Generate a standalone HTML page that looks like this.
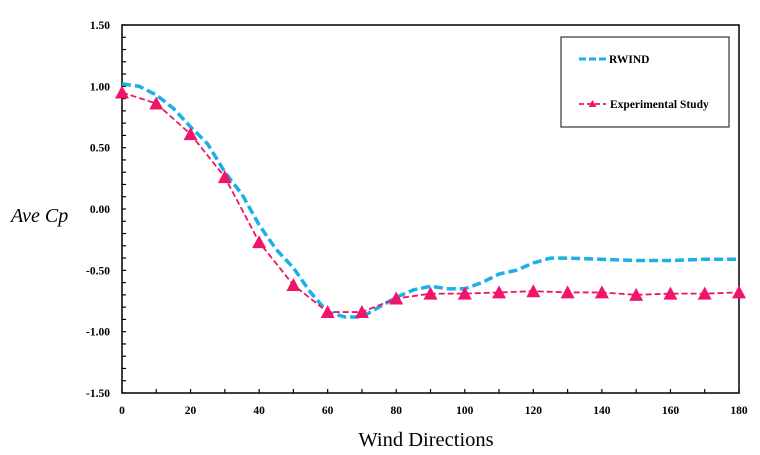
<!DOCTYPE html>
<html><head><meta charset="utf-8"><style>
body{margin:0;background:#fff;width:760px;height:455px;overflow:hidden}
svg{display:block}
.t{font-family:"Liberation Serif",serif;font-weight:bold;font-size:11.5px;fill:#000}
</style></head><body>
<svg id="s" width="760" height="455" xmlns="http://www.w3.org/2000/svg">
<rect x="0" y="0" width="760" height="455" fill="#fff"/>
<rect x="122" y="25" width="617" height="368" fill="none" stroke="#000" stroke-width="1.5"/>
<g id="ticks" stroke="#000" stroke-width="1.2"></g>
<g id="labels"></g>
<text x="11" y="222" font-family="Liberation Serif,serif" font-style="italic" font-size="20">Ave Cp</text>
<text x="426" y="446" text-anchor="middle" font-family="Liberation Serif,serif" font-size="20.5">Wind Directions</text>
<path id="rw" fill="none" stroke="#1ab0e8" stroke-width="3.5" stroke-dasharray="9,4"/>
<path id="ex" fill="none" stroke="#f0145f" stroke-width="1.8" stroke-dasharray="6,3"/>
<g id="mk" fill="#f0146a"></g>
<rect x="561" y="37" width="168" height="90" fill="#fff" stroke="#333" stroke-width="1.2"/>
<line x1="579" y1="59" x2="606" y2="59" stroke="#1ab0e8" stroke-width="3" stroke-dasharray="7,3"/>
<text class="t" x="609" y="63">RWIND</text>
<line x1="579" y1="104" x2="606" y2="104" stroke="#f0145f" stroke-width="1.8" stroke-dasharray="5,3"/>
<polygon points="592.5,100 588.5,107 596.5,107" fill="#f0146a"/>
<text class="t" x="610" y="108">Experimental Study</text>
</svg>
<script>
const X=d=>122+d*617/180, Y=v=>209-v*122.67;
let tk="",lb="";
for(let v=-1.5;v<=1.501;v+=0.1){const y=Y(v);tk+=`<line x1="122" y1="${y}" x2="126" y2="${y}"/>`;}
for(let i=-3;i<=3;i++){const v=i*0.5;lb+=`<text class="t" x="110" y="${Y(v)+4}" text-anchor="end">${v.toFixed(2)}</text>`;}
for(let d=0;d<=180;d+=10){const x=X(d);tk+=`<line x1="${x}" y1="393" x2="${x}" y2="389"/>`;if(d%20==0)lb+=`<text class="t" x="${x}" y="414" text-anchor="middle">${d}</text>`;}
document.getElementById("ticks").innerHTML=tk;document.getElementById("labels").innerHTML=lb;
const ex=[0.95,0.86,0.61,0.26,-0.27,-0.62,-0.84,-0.84,-0.73,-0.69,-0.69,-0.68,-0.67,-0.68,-0.68,-0.70,-0.69,-0.69,-0.68];
const rw=[[0,1.02],[5,1.0],[10,0.93],[15,0.82],[20,0.67],[25,0.53],[30,0.30],[35,0.12],[40,-0.13],[45,-0.33],[50,-0.48],[55,-0.68],[60,-0.84],[65,-0.88],[70,-0.88],[75,-0.80],[80,-0.72],[85,-0.66],[90,-0.63],[95,-0.65],[100,-0.65],[105,-0.60],[110,-0.53],[115,-0.50],[120,-0.44],[125,-0.40],[130,-0.40],[140,-0.41],[150,-0.42],[160,-0.42],[170,-0.41],[180,-0.41]];
document.getElementById("rw").setAttribute("d","M"+rw.map(p=>X(p[0])+","+Y(p[1])).join(" L"));
document.getElementById("ex").setAttribute("d","M"+ex.map((v,i)=>X(i*10)+","+Y(v)).join(" L"));
let m="";ex.forEach((v,i)=>{const x=X(i*10),y=Y(v);m+=`<polygon points="${x},${y-7} ${x-7},${y+6} ${x+7},${y+6}"/>`;});
document.getElementById("mk").innerHTML=m;
</script>
</body></html>
